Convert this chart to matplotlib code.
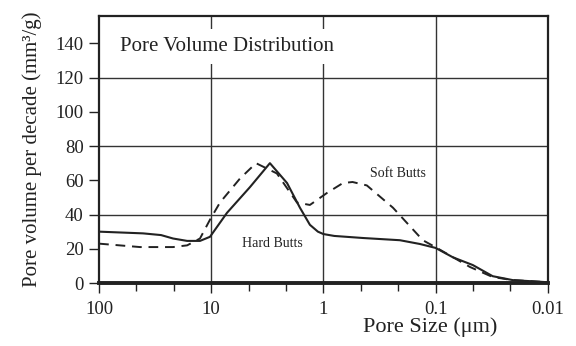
import matplotlib.pyplot as plt
import numpy as np
from matplotlib.ticker import FixedLocator, NullFormatter

plt.rcParams['font.family'] = ['Liberation Serif', 'DejaVu Serif']

# pore size (um) and pore volume per decade (mm3/g)
hard_size = [100, 40.5, 28, 21.9, 16.4, 12.6, 10.26, 7.24, 4.52, 3.0, 2.11,
             1.62, 1.32, 1.12, 1.0, 0.8, 0.445, 0.208, 0.138, 0.1, 0.07,
             0.0466, 0.031, 0.0205, 0.0102]
hard_vol = [30, 29, 28, 26, 24.6, 24.6, 27, 41, 56, 70, 58.4,
            44, 34, 30, 28.6, 27.5, 26.3, 25, 22.8, 20.5, 15,
            10.5, 4, 1.7, 0.5]

soft_size = [100, 43.1, 21.9, 16.4, 12.6, 10.26, 8.36, 5.55, 3.99, 2.6,
             1.72, 1.32, 0.93, 0.67, 0.55, 0.41, 0.24, 0.13, 0.0975, 0.0495,
             0.031, 0.0205, 0.0102]
soft_vol = [23, 21, 21, 22, 26, 37, 47, 61, 70, 64,
            47, 45.6, 52.6, 58.4, 59, 57, 44, 25, 20.5, 9.4,
            3.5, 1.7, 0.5]

yticks = [0, 20, 40, 60, 80, 100, 120, 140]
xticks = [100, 10, 1, 0.1, 0.01]
xticklabels = ['100', '10', '1', '0.1', '0.01']

fig = plt.figure(figsize=(5.76, 3.46), dpi=100)
ax = fig.add_axes([0.172, 0.182, 0.779, 0.772])

ink = '#222222'
ax.plot(hard_size, hard_vol, color=ink, lw=1.5, zorder=3)
ax.plot(soft_size, soft_vol, color=ink, lw=1.4, ls=(0, (5, 3.5)), zorder=3)

ax.set_xscale('log')
ax.set_xlim(100, 0.01)
ax.set_ylim(0, 156)

for yv in [40, 80, 120]:
    ax.axhline(yv, color='#333333', lw=1.0, zorder=1)
for xv in [10, 1, 0.1]:
    ax.axvline(xv, color='#333333', lw=1.0, zorder=1)
ax.axhline(0, color=ink, lw=2.8, zorder=4, clip_on=False)

ax.xaxis.set_major_locator(FixedLocator(xticks))
ax.set_xticklabels(xticklabels)
minor = [10 ** (k + f) for k in range(-2, 2) for f in (1 / 3, 2 / 3)]
ax.xaxis.set_minor_locator(FixedLocator(minor))
ax.xaxis.set_minor_formatter(NullFormatter())
ax.set_yticks(yticks)

ax.tick_params(axis='both', which='major', direction='out', length=7,
               width=1.0, color=ink, labelsize=13.5, labelcolor=ink)
ax.tick_params(axis='x', which='minor', direction='out', length=6,
               width=1.0, color=ink)
ax.tick_params(axis='x', pad=6)
ax.tick_params(axis='y', pad=4)

for s in ax.spines.values():
    s.set_linewidth(1.6)
    s.set_color(ink)

ax.text(0.046, 0.885, 'Pore Volume Distribution', transform=ax.transAxes,
        fontsize=15, color=ink, va='center', ha='left', zorder=2,
        bbox=dict(facecolor='white', edgecolor='none', pad=6))
ax.text(0.217, 64, 'Soft Butts', fontsize=10, color=ink, ha='center', va='center')
ax.text(2.83, 23, 'Hard Butts', fontsize=10, color=ink, ha='center', va='center')

ax.set_ylabel('Pore volume per decade (mm³/g)', fontsize=15, color=ink, labelpad=10)
ax.set_xlabel('Pore Size (μm)', fontsize=16, color=ink)
ax.xaxis.set_label_coords(0.737, -0.13)

fig.savefig('out.png', dpi=100)
